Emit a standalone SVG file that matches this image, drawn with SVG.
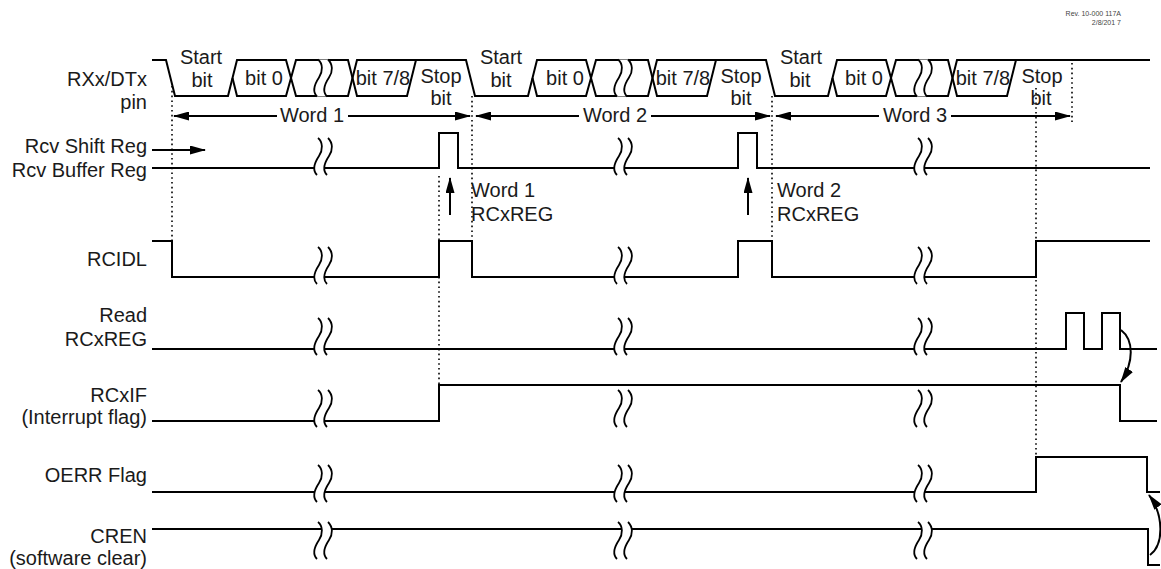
<svg xmlns="http://www.w3.org/2000/svg" xmlns:xlink="http://www.w3.org/1999/xlink" width="1161" height="569" viewBox="0 0 1161 569">
<style>
text{font-family:"Liberation Sans",Arial,sans-serif;font-size:20px;fill:#1a1a1a}
.lbl{text-anchor:end}
.c{text-anchor:middle}
.w{fill:none;stroke:#000;stroke-width:2;stroke-linejoin:miter}
.dot{fill:none;stroke:#000;stroke-width:1.6;stroke-dasharray:1.6 3.2}
.ar{fill:none;stroke:#000;stroke-width:2}
.rev{font-size:7px;text-anchor:end;fill:#444}
</style>
<defs>
<marker id="ah" viewBox="0 0 16 9" refX="15" refY="4.5" markerWidth="16" markerHeight="9" markerUnits="userSpaceOnUse" orient="auto-start-reverse">
<path d="M0,0 L16,4.5 L0,9 Z" fill="#000"/>
</marker>
<g id="brk">
<path d="M5,0 C10,4 10,12 6,18 C2,24 -1,32 4,37 L14,37 C9,32 12,24 16,18 C20,12 20,4 15,0 Z" fill="#fff" stroke="none"/>
<path d="M5,0 C10,4 10,12 6,18 C2,24 -1,32 4,37" fill="none" stroke="#000" stroke-width="1.8"/>
<path d="M15,0 C20,5 20,12 16,18 C12,24 9,32 14,37" fill="none" stroke="#000" stroke-width="1.8"/>
</g>
</defs>
<rect width="1161" height="569" fill="#fff"/>

<g id="rev">
<text class="rev" x="1121" y="16">Rev. 10-000 117A</text>
<text class="rev" x="1121" y="25">2/8/201 7</text>
</g>

<g id="labels">
<text class="lbl" x="147" y="86">RXx/DTx</text>
<text class="lbl" x="147" y="109">pin</text>
<text class="lbl" x="147" y="153">Rcv Shift Reg</text>
<text class="lbl" x="147" y="177">Rcv Buffer Reg</text>
<text class="lbl" x="147" y="266">RCIDL</text>
<text class="lbl" x="147" y="322">Read</text>
<text class="lbl" x="147" y="346">RCxREG</text>
<text class="lbl" x="147" y="402">RCxIF</text>
<text class="lbl" x="147" y="424">(Interrupt flag)</text>
<text class="lbl" x="147" y="482">OERR Flag</text>
<text class="lbl" x="147" y="543">CREN</text>
<text class="lbl" x="147" y="565">(software clear)</text>
</g>

<g id="dotted">
<path class="dot" d="M172,86 V240"/>
<path class="dot" d="M472,96 V240"/>
<path class="dot" d="M772,96 V240"/>
<path class="dot" d="M439,176 V385"/>
<path class="dot" d="M1036,88 V456"/>
<path class="dot" d="M1072,63 V122"/>
</g>

<g id="bus">
<path class="w" d="M152,60 H166 L175,96 H228 L237,60 H286 L296,96 H348 L357,60 H466 L475,96 H528 L537,60 H586 L596,96 H648 L657,60 H766 L775,96 H828 L837,60 H886 L896,96 H948 L957,60 H1150"/>
<path class="w" d="M232.5,78 L237,96 H286 L296,60 H348 L357,96 H407 L416,60 M532.5,78 L537,96 H586 L596,60 H648 L657,96 H707 L716,60 M832.5,78 L837,96 H886 L896,60 H948 L957,96 H1007 L1016,60"/>
<use xlink:href="#brk" href="#brk" x="313" y="59.5"/>
<use xlink:href="#brk" href="#brk" x="613" y="59.5"/>
<use xlink:href="#brk" href="#brk" x="913" y="59.5"/>
<text class="c" x="201" y="64">Start</text><text class="c" x="202" y="87">bit</text>
<text class="c" x="264" y="85">bit 0</text>
<text class="c" x="383" y="85">bit 7/8</text>
<text class="c" x="441" y="83">Stop</text><text class="c" x="441" y="105">bit</text>
<text class="c" x="501" y="64">Start</text><text class="c" x="501" y="87">bit</text>
<text class="c" x="565" y="85">bit 0</text>
<text class="c" x="683" y="85">bit 7/8</text>
<text class="c" x="741" y="83">Stop</text><text class="c" x="741" y="105">bit</text>
<text class="c" x="801" y="64">Start</text><text class="c" x="800" y="87">bit</text>
<text class="c" x="864" y="85">bit 0</text>
<text class="c" x="983" y="85">bit 7/8</text>
<text class="c" x="1042" y="83">Stop</text><text class="c" x="1041" y="105">bit</text>
</g>

<g id="words">
<path class="ar" d="M174,116 H277" marker-start="url(#ah)"/>
<path class="ar" d="M348,116 H470" marker-end="url(#ah)"/>
<text class="c" x="312" y="122">Word 1</text>
<path class="ar" d="M476,116 H579" marker-start="url(#ah)"/>
<path class="ar" d="M651,116 H770" marker-end="url(#ah)"/>
<text class="c" x="615" y="122">Word 2</text>
<path class="ar" d="M776,116 H879" marker-start="url(#ah)"/>
<path class="ar" d="M951,116 H1070" marker-end="url(#ah)"/>
<text class="c" x="915" y="122">Word 3</text>
</g>

<g id="rcv">
<path class="ar" d="M152,150 H205" marker-end="url(#ah)"/>
<path class="w" d="M152,168 H439 V133 H458 V168 H738 V133 H757 V168 H1150"/>
<use xlink:href="#brk" href="#brk" x="313" y="138"/>
<use xlink:href="#brk" href="#brk" x="613" y="138"/>
<use xlink:href="#brk" href="#brk" x="913" y="138"/>
<path class="ar" d="M450,215 V178" marker-end="url(#ah)"/>
<path class="ar" d="M748,215 V178" marker-end="url(#ah)"/>
<text x="471" y="197">Word 1</text>
<text x="471" y="221">RCxREG</text>
<text x="777" y="197">Word 2</text>
<text x="777" y="221">RCxREG</text>
</g>

<g id="rcidl">
<path class="w" d="M152,241 H172 V277 H439 V241 H472 V277 H738 V241 H772 V277 H1036 V241 H1150"/>
<use xlink:href="#brk" href="#brk" x="313" y="247"/>
<use xlink:href="#brk" href="#brk" x="613" y="247"/>
<use xlink:href="#brk" href="#brk" x="913" y="247"/>
</g>

<g id="read">
<path class="w" d="M152,349 H1066 V313 H1084 V349 H1102 V313 H1120 V349 H1157"/>
<use xlink:href="#brk" href="#brk" x="313" y="318"/>
<use xlink:href="#brk" href="#brk" x="613" y="318"/>
<use xlink:href="#brk" href="#brk" x="913" y="318"/>
</g>

<g id="rcxif">
<path class="w" d="M152,421 H439 V385 H1120 V421 H1157"/>
<use xlink:href="#brk" href="#brk" x="313" y="390"/>
<use xlink:href="#brk" href="#brk" x="613" y="390"/>
<use xlink:href="#brk" href="#brk" x="913" y="390"/>
</g>

<g id="oerr">
<path class="w" d="M152,492 H1036 V457 H1147 V492 H1160"/>
<use xlink:href="#brk" href="#brk" x="313" y="465"/>
<use xlink:href="#brk" href="#brk" x="613" y="465"/>
<use xlink:href="#brk" href="#brk" x="913" y="465"/>
</g>

<g id="cren">
<path class="w" d="M152,529 H1148 V565 H1160"/>
<use xlink:href="#brk" href="#brk" x="313" y="522"/>
<use xlink:href="#brk" href="#brk" x="613" y="522"/>
<use xlink:href="#brk" href="#brk" x="913" y="522"/>
</g>

<g id="connectors">
<path class="ar" d="M1121,330 C1134,340 1134,362 1121,382" marker-end="url(#ah)"/>
<path class="ar" d="M1150,555 C1164,545 1164,515 1149,495" marker-end="url(#ah)"/>
</g>
</svg>
